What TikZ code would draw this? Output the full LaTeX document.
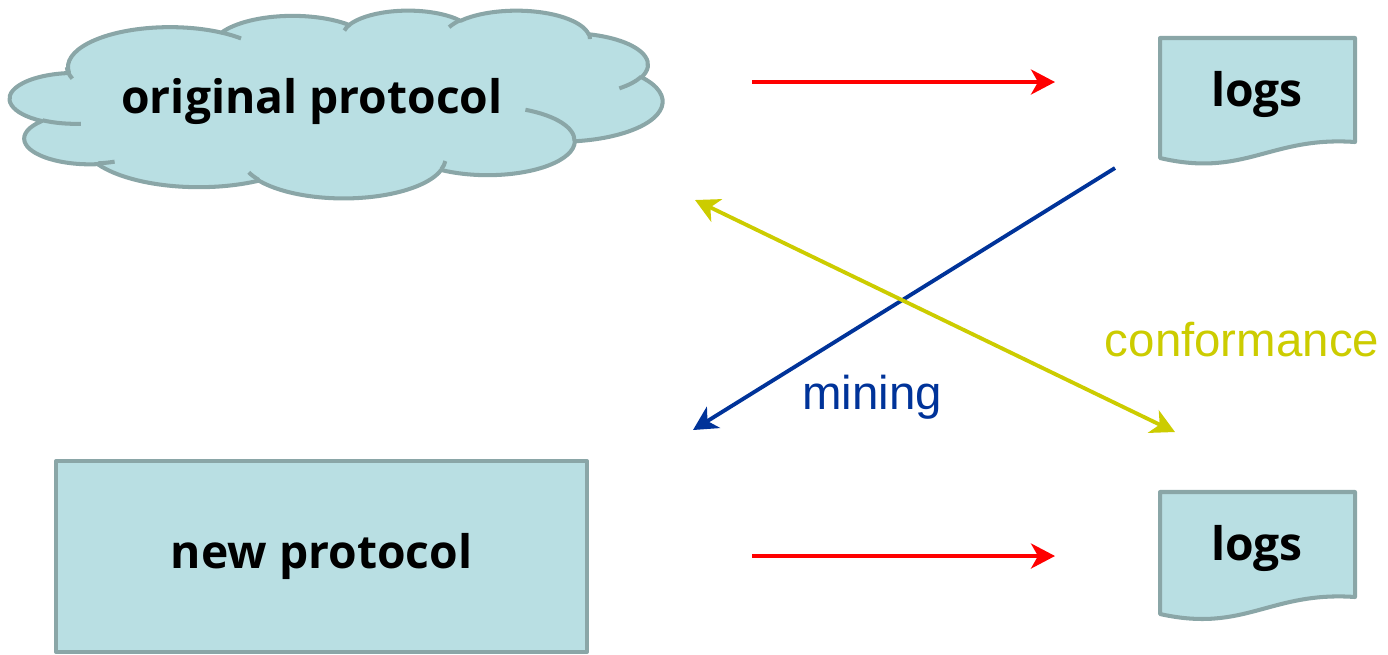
\documentclass[tikz,border=0pt]{standalone}
\usepackage{fontspec}
\setmainfont{Open Sans}
\newfontfamily\arialfont{Liberation Sans}
\usetikzlibrary{arrows.meta}
\definecolor{boxfill}{HTML}{B9DFE3}
\definecolor{boxline}{HTML}{8AA6A7}
\definecolor{arrred}{HTML}{FF0000}
\definecolor{arrblue}{HTML}{003399}
\definecolor{arryel}{HTML}{CCCC00}
\pgfmathdeclarefunction{ts}{3}{\pgfmathparse{atan2(#1*sin(#3),#2*cos(#3))}}
\pgfmathdeclarefunction{dd}{4}{\pgfmathparse{mod(atan2(#1*sin(#3+#4),#2*cos(#3+#4))-atan2(#1*sin(#3),#2*cos(#3))+720,360)}}
\begin{document}
\begin{tikzpicture}[x=0.02cm,y=-0.02cm,
  shapestyle/.style={fill=boxfill,draw=boxline,line width=2.3pt,line join=round},
  innerline/.style={draw=boxline,line width=2.3pt},
  bigtext/.style={font=\bfseries\fontsize{26.3}{31}\selectfont,inner sep=0pt},
  lbl/.style={font=\arialfont\fontsize{27}{32}\selectfont,inner sep=0pt},
  tip/.tip={Stealth[length=0.48cm,width=0.5cm,inset=0.14cm]},
  arr/.style={line width=2.2pt,-tip},
  dblarr/.style={line width=2.2pt,tip-tip},
]
\useasboundingbox (0,0) rectangle (1388,654);

% cloud (original protocol)
\begin{scope}[shift={(10,10)},x=0.0030139cm,y=-0.00087037cm]
\filldraw[shapestyle] (390,1437)
  arc[start angle={ts(675.3,919.0,-190.487)},delta angle={dd(675.3,919.0,-190.487,123.781)},x radius=675.3,y radius=919.0]
  arc[start angle={ts(533.3,726.7,-144.102)},delta angle={dd(533.3,726.7,-144.102,89.945)},x radius=533.3,y radius=726.7]
  arc[start angle={ts(436.5,594.5,-145.808)},delta angle={dd(436.5,594.5,-145.808,99.723)},x radius=436.5,y radius=594.5]
  arc[start angle={ts(485.7,659.5,-130.986)},delta angle={dd(485.7,659.5,-130.986,117.242)},x radius=485.7,y radius=659.5]
  arc[start angle={ts(533.3,727.3,-78.709)},delta angle={dd(533.3,727.3,-78.709,109.027)},x radius=533.3,y radius=727.3]
  arc[start angle={ts(677.5,922.0,-46.267)},delta angle={dd(677.5,922.0,-46.267,130.269)},x radius=677.5,y radius=922.0]
  arc[start angle={ts(578.5,786.7,0.625)},delta angle={dd(578.5,786.7,0.625,114.033)},x radius=578.5,y radius=786.7]
  arc[start angle={ts(675.2,921.5,22.452)},delta angle={dd(675.2,921.5,22.452,115.173)},x radius=675.2,y radius=921.5]
  arc[start angle={ts(772.0,1054.3,66.243)},delta angle={dd(772.0,1054.3,66.243,75.711)},x radius=772.0,y radius=1054.3]
  arc[start angle={ts(436.0,591.8,-274.942)},delta angle={dd(436.0,591.8,-274.942,146.736)},x radius=436.0,y radius=591.8]
  arc[start angle={ts(434.5,594.5,-246.829)},delta angle={dd(434.5,594.5,-246.829,152.519)},x radius=434.5,y radius=594.5]
  -- cycle;
\draw[innerline] (469.3,2617.7) arc[start angle={ts(434.5,594.5,86.742)},delta angle={dd(434.5,594.5,86.742,26.430)},x radius=434.5,y radius=594.5];
\draw[innerline] (692.8,3489.9) arc[start angle={ts(436.0,591.8,73.610)},delta angle={dd(436.0,591.8,73.610,11.447)},x radius=436.0,y radius=591.8];
\draw[innerline] (1647.8,3909.0) arc[start angle={ts(675.2,921.5,137.624)},delta angle={dd(675.2,921.5,137.624,14.081)},x radius=675.2,y radius=921.5];
\draw[innerline] (2882.7,3475.1) arc[start angle={ts(675.2,921.5,6.453)},delta angle={dd(675.2,921.5,6.453,15.998)},x radius=675.2,y radius=921.5];
\draw[innerline] (3412.9,2295.4) arc[start angle={ts(578.5,786.7,-70.292)},delta angle={dd(578.5,786.7,-70.292,70.917)},x radius=578.5,y radius=786.7];
\draw[innerline] (4179.8,1535.4) arc[start angle={ts(533.3,727.3,30.318)},delta angle={dd(533.3,727.3,30.318,27.752)},x radius=533.3,y radius=727.3];
\draw[innerline] (3832.4,542.6) arc[start angle={ts(485.7,659.5,-13.744)},delta angle={dd(485.7,659.5,-13.744,14.859)},x radius=485.7,y radius=659.5];
\draw[innerline] (2907.8,395.2) arc[start angle={ts(485.7,659.5,-149.181)},delta angle={dd(485.7,659.5,-149.181,18.195)},x radius=485.7,y radius=659.5];
\draw[innerline] (2214.1,472.0) arc[start angle={ts(436.5,594.5,-163.494)},delta angle={dd(436.5,594.5,-163.494,17.686)},x radius=436.5,y radius=594.5];
\draw[innerline] (1400.0,519.2) arc[start angle={ts(675.3,919.0,-66.707)},delta angle={dd(675.3,919.0,-66.707,12.319)},x radius=675.3,y radius=919.0];
\draw[innerline] (412.7,1578.9) arc[start angle={ts(675.3,919.0,154.819)},delta angle={dd(675.3,919.0,154.819,22.067)},x radius=675.3,y radius=919.0];
\end{scope}
\node[bigtext] (origtxt) at (312,101) {original protocol};

% new protocol
\node[shapestyle,bigtext,minimum width=10.62cm,minimum height=3.82cm] (newp) at (321.5,556.5) {new protocol};

% logs documents
\filldraw[shapestyle] (1160,38) -- (1355,38) -- (1355,142)
  .. controls (1270,136) and (1245,178) .. (1160,158) -- cycle;
\node[bigtext] (logs1) at (1257,94) {logs};
\filldraw[shapestyle] (1160,492) -- (1355,492) -- (1355,597)
  .. controls (1270,591) and (1245,633) .. (1160,614) -- cycle;
\node[bigtext] (logs2) at (1257,548) {logs};

% arrows
\coordinate (r1s) at (752,82);
\coordinate (r1e) at (1055,82);
\coordinate (r2s) at (752,556);
\coordinate (r2e) at (1055,556);
\coordinate (bs) at (1115,168);
\coordinate (be) at (693,430);
\coordinate (ys) at (695,200);
\coordinate (ye) at (1175,432);
\draw[arr,arrred] (r1s) -- (r1e);
\draw[arr,arrred] (r2s) -- (r2e);
\draw[arr,arrblue] (bs) -- (be);
\draw[dblarr,arryel] (ys) -- (ye);

\node[lbl,text=arrblue] (mining) at (872,397) {mining};
\node[lbl,text=arryel] (conf) at (1242,340) {conformance};
\end{tikzpicture}
\end{document}
